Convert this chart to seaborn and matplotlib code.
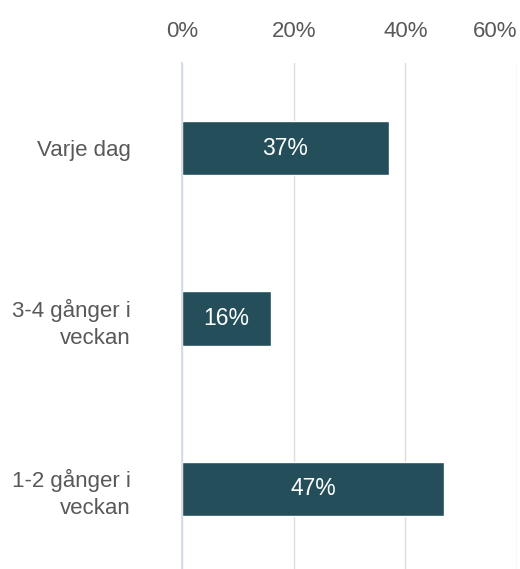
import matplotlib
matplotlib.use("Agg")
import matplotlib.pyplot as plt
import seaborn as sns
import pandas as pd

# ================= DADOS =================
categorias = ["Varje dag", "3-4 gånger i\nveckan", "1-2 gånger i\nveckan"]
valores = [37, 16, 47]
rotulos = ["37%", "16%", "47%"]
ticks_x = [0, 20, 40, 60]

COR_BARRA = "#234E5A"
COR_TEXTO = "#595959"

sns.set_style("white")
plt.rcParams['font.family'] = ['Liberation Sans', 'DejaVu Sans']

df = pd.DataFrame({"cat": categorias, "val": valores})

fig = plt.figure(figsize=(5.2, 5.69), dpi=100)
ax = fig.add_axes([182 / 520, -5 / 569, 335 / 520, 511 / 569])

sns.barplot(data=df, x="val", y="cat", orient="h", color=COR_BARRA,
            width=0.32, saturation=1, ax=ax)

ax.bar_label(ax.containers[0], labels=rotulos, label_type="center",
             color="white", fontsize=16.5)

ax.set_xlim(0, 60)
ax.set_xticks(ticks_x)
ax.set_xticklabels([f"{t}%" for t in ticks_x])
ax.xaxis.tick_top()
ax.tick_params(axis="x", length=0, pad=15, labelsize=16, labelcolor=COR_TEXTO)
ax.tick_params(axis="y", length=0, pad=37, labelsize=16, labelcolor=COR_TEXTO)
# o ultimo rotulo fica encostado na borda direita
ax.get_xticklabels()[-1].set_horizontalalignment("right")
for lbl in ax.get_yticklabels():
    lbl.set_linespacing(1.35)
ax.set_xlabel("")
ax.set_ylabel("")

# grade vertical
ax.grid(axis="x", color="#DCDCDC", linewidth=1)
ax.set_axisbelow(True)
for s in ["top", "right", "bottom"]:
    ax.spines[s].set_visible(False)
ax.spines["left"].set_color("#D0D9E8")
ax.spines["left"].set_linewidth(1.2)

fig.savefig("out.png", dpi=100)
